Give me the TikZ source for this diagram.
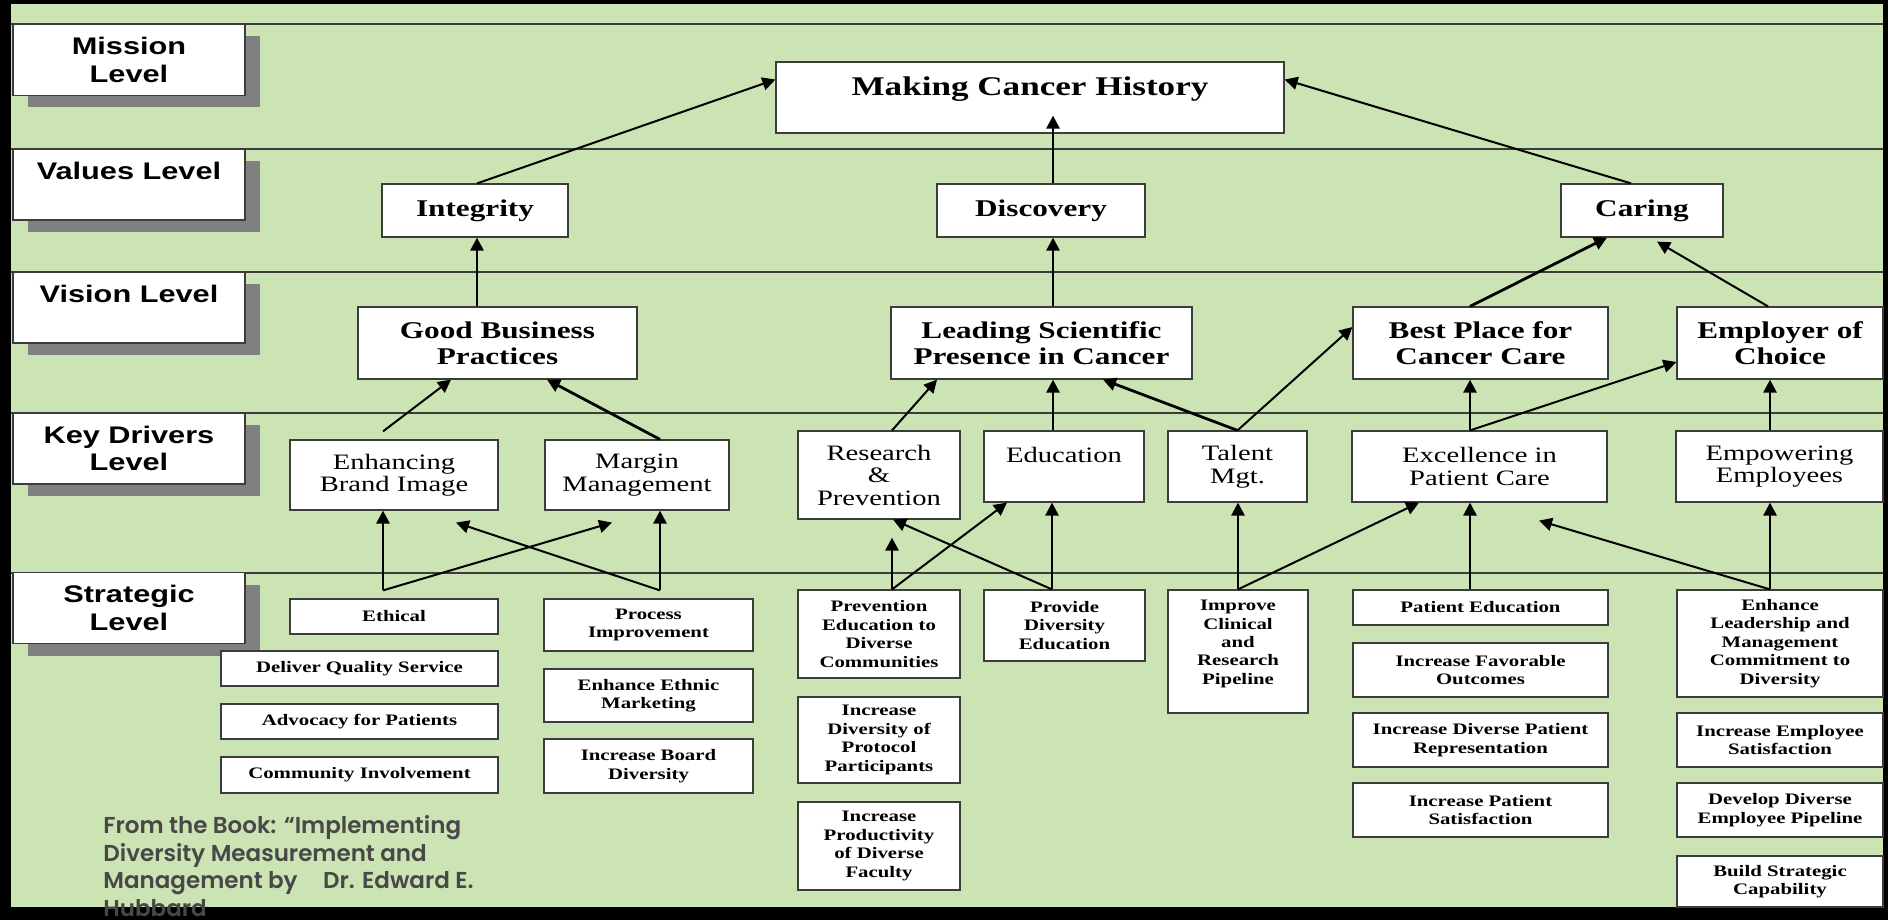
\documentclass[tikz,border=0pt]{standalone}
\usepackage{fontspec}
\usetikzlibrary{arrows.meta,shadows}
\newfontfamily\levelfont{Liberation Sans}[FakeStretch=1.28]
\newfontfamily\chartfont{Liberation Serif}[FakeStretch=1.3]
\newfontfamily\bookfont{Poppins}[UprightFont=* SemiBold]
\definecolor{chartgreen}{RGB}{204,228,180}
\definecolor{shadowgray}{RGB}{128,128,128}
\definecolor{rulegray}{RGB}{60,60,60}
\definecolor{booktext}{RGB}{72,72,72}
\begin{document}
\begin{tikzpicture}[x=0.5pt,y=-0.5pt,
    levelbox/.style={draw=rulegray,fill=white,line width=0.6pt,inner sep=0pt,align=center,
      minimum width=116pt,minimum height=35.5pt,
      font=\levelfont\bfseries\fontsize{12}{13.7}\selectfont,
      drop shadow={shadow xshift=7.5pt,shadow yshift=-6pt,fill=shadowgray,opacity=1}},
    valuebox/.style={draw=rulegray,fill=white,line width=0.6pt,inner sep=0pt,align=center,
      font=\chartfont\bfseries\fontsize{12}{12.8}\selectfont},
    driverbox/.style={draw=rulegray,fill=white,line width=0.6pt,inner sep=0pt,align=center,
      font=\chartfont\fontsize{11}{11.25}\selectfont},
    stratbox/.style={draw=rulegray,fill=white,line width=0.6pt,inner sep=0pt,align=center,
      font=\chartfont\bfseries\fontsize{8}{9.2}\selectfont},
    arrow/.style={line width=1.4pt,-{Triangle[length=6.5pt,width=6.5pt]}},
    thinarrow/.style={line width=1pt,-{Triangle[length=6.5pt,width=6.5pt]}}]
                \useasboundingbox (0,0) rectangle (1888,920);

                % Drawing frame and background
                \fill [black] (0,0) rectangle (1888,920);
                \fill [chartgreen] (11,4) rectangle (1883,907);

                % Drawing level rules
                \draw [rulegray, line width=0.75pt] (11,24) -- (1883,24);
                \draw [rulegray, line width=0.75pt] (11,149) -- (1883,149);
                \draw [rulegray, line width=0.75pt] (11,272) -- (1883,272);
                \draw [rulegray, line width=0.75pt] (11,413) -- (1883,413);
                \draw [rulegray, line width=0.75pt] (11,573) -- (1883,573);

                % Level boxes
                \node [levelbox] (mission) at (129,60) {Mission\\Level};
                \node [levelbox] (values) at (129,184.5) {Values Level\\~};
                \node [levelbox] (vision) at (129,307.5) {Vision Level\\~};
                \node [levelbox] (drivers) at (129,448.5) {Key Drivers\\Level};
                \node [levelbox] (strategic) at (129,608) {Strategic\\Level};

                % Mission level
                \node [valuebox, font=\chartfont\bfseries\fontsize{13.5}{11.5}\selectfont,
                  minimum width=254pt, minimum height=35.5pt] (mch) at (1030,97.5) {Making Cancer History\\~};

                % Values level
                \node [valuebox, minimum width=93pt, minimum height=26.5pt] (integ) at (475,210.5) {Integrity};
                \node [valuebox, minimum width=104pt, minimum height=26.5pt] (disc) at (1041,210.5) {Discovery};
                \node [valuebox, minimum width=81pt, minimum height=26.5pt] (caring) at (1642,210.5) {Caring};

                % Vision level
                \node [valuebox, minimum width=139.5pt, minimum height=36pt] (gbp) at (497.5,343) {Good Business\\Practices};
                \node [valuebox, minimum width=150.5pt, minimum height=36pt] (lspc) at (1041.5,343) {Leading Scientific\\Presence in Cancer};
                \node [valuebox, minimum width=127.5pt, minimum height=36pt] (bestpl) at (1480.5,343) {Best Place for\\Cancer Care};
                \node [valuebox, minimum width=103pt, minimum height=36pt] (employer) at (1780,343) {Employer of\\Choice};

                % Key drivers level
                \node [driverbox, minimum width=104pt, minimum height=35pt] (ebi) at (394,475) {Enhancing\\Brand Image};
                \node [driverbox, minimum width=92pt, minimum height=35pt] (mm) at (637,475) {Margin\\Management};
                \node [driverbox, minimum width=81pt, minimum height=44pt] (rp) at (879,475) {Research\\\&\\Prevention};
                \node [driverbox, minimum width=80pt, minimum height=35.5pt] (edu) at (1064,466.5) {Education\\~};
                \node [driverbox, minimum width=69.5pt, minimum height=35.5pt] (talent) at (1237.5,466.5) {Talent\\Mgt.};
                \node [driverbox, minimum width=127.5pt, minimum height=35.5pt] (excel) at (1479.5,466.5) {Excellence in\\Patient Care};
                \node [driverbox, minimum width=103.5pt, minimum height=35.5pt] (empow) at (1779.5,466.5) {Empowering\\Employees};

                % Strategic level
                \node [stratbox, minimum width=104pt, minimum height=17.5pt] (ethical) at (394,616.5) {Ethical};
                \node [stratbox, minimum width=138.5pt, minimum height=17.5pt] (dqs) at (359.5,668.5) {Deliver Quality Service};
                \node [stratbox, minimum width=138.5pt, minimum height=17.5pt] (advocacy) at (359.5,721.5) {Advocacy for Patients};
                \node [stratbox, minimum width=138.5pt, minimum height=18pt] (community) at (359.5,775) {Community Involvement};
                \node [stratbox, minimum width=104.5pt, minimum height=26pt] (procimp) at (648.5,625) {Process\\Improvement};
                \node [stratbox, minimum width=104.5pt, minimum height=26.5pt] (ethnic) at (648.5,695.5) {Enhance Ethnic\\Marketing};
                \node [stratbox, minimum width=104.5pt, minimum height=27pt] (board) at (648.5,766) {Increase Board\\Diversity};
                \node [stratbox, minimum width=81pt, minimum height=44pt] (prevedu) at (879,634) {Prevention\\Education to\\Diverse\\Communities};
                \node [stratbox, minimum width=81pt, minimum height=43pt] (protocol) at (879,740) {Increase\\Diversity of\\Protocol\\Participants};
                \node [stratbox, minimum width=81pt, minimum height=44pt] (faculty) at (879,846) {Increase\\Productivity\\of Diverse\\Faculty};
                \node [stratbox, minimum width=80.5pt, minimum height=35.5pt] (divedu) at (1064.5,625.5) {Provide\\Diversity\\Education};
                \node [stratbox, minimum width=70pt, minimum height=61.5pt] (pipeline) at (1238,651.5) {Improve\\Clinical\\and\\Research\\Pipeline\\~};
                \node [stratbox, minimum width=127.5pt, minimum height=17.5pt] (pated) at (1480.5,607.5) {Patient Education};
                \node [stratbox, minimum width=127.5pt, minimum height=27pt] (favor) at (1480.5,670) {Increase Favorable\\Outcomes};
                \node [stratbox, minimum width=127.5pt, minimum height=27pt] (represent) at (1480.5,740) {Increase Diverse Patient\\Representation};
                \node [stratbox, minimum width=127.5pt, minimum height=27pt] (patsat) at (1480.5,810) {Increase Patient\\Satisfaction};
                \node [stratbox, minimum width=103pt, minimum height=53.5pt] (leader) at (1780,643.5) {Enhance\\Leadership and\\Management\\Commitment to\\Diversity};
                \node [stratbox, minimum width=103pt, minimum height=27pt] (empsat) at (1780,740) {Increase Employee\\Satisfaction};
                \node [stratbox, minimum width=103pt, minimum height=27pt] (emppipe) at (1780,810) {Develop Diverse\\Employee Pipeline};
                \node [stratbox, minimum width=103pt, minimum height=25.5pt] (buildcap) at (1780,881.5) {Build Strategic\\Capability};

                % Drawing arrows to mission level
                \draw [thinarrow] ([xshift=1pt]integ.north) -- ([yshift=9pt]mch.west);
                \draw [arrow] ([xshift=6pt]disc.north) -- ([xshift=11.5pt,yshift=9pt]mch.south);
                \draw [thinarrow] ([xshift=-5.5pt]caring.north) -- ([yshift=9pt]mch.east);

                % Drawing arrows to values level
                \draw [arrow] ([xshift=-10.25pt]gbp.north) -- ([xshift=1pt]integ.south);
                \draw [arrow] ([xshift=5.75pt]lspc.north) -- ([xshift=6pt]disc.south);
                \draw [arrow] ([xshift=-5.25pt]bestpl.north) -- ([xshift=-17.5pt]caring.south);
                \draw [thinarrow] ([xshift=-6pt]employer.north) -- ([xshift=7.5pt,yshift=-2pt]caring.south);

                % Drawing arrows to vision level
                \draw [thinarrow] ([xshift=-5.5pt,yshift=4pt]ebi.north) -- ([xshift=-23.25pt]gbp.south);
                \draw [arrow] ([xshift=11.5pt]mm.north) -- ([xshift=24.75pt]gbp.south);
                \draw [thinarrow] ([xshift=6.5pt]rp.north) -- ([xshift=-52.25pt]lspc.south);
                \draw [arrow] ([xshift=-5.5pt]edu.north) -- ([xshift=5.75pt]lspc.south);
                \draw [arrow] (talent.north) -- ([xshift=30.75pt]lspc.south);
                \draw [thinarrow] (talent.north) -- ([yshift=8pt]bestpl.west);
                \draw [arrow] ([xshift=-4.75pt]excel.north) -- ([xshift=-5.25pt]bestpl.south);
                \draw [thinarrow] ([xshift=-4.75pt]excel.north) -- ([yshift=-9.5pt]employer.west);
                \draw [arrow] ([xshift=-4.75pt]empow.north) -- ([xshift=-5pt]employer.south);

                % Drawing arrows to key drivers level
                \coordinate (ethj) at ([xshift=-5.5pt,yshift=4pt]ethical.north);
                \coordinate (procj) at ([xshift=5.75pt,yshift=4pt]procimp.north);
                \draw [arrow] (ethj) -- (ethj |- ebi.south);
                \draw [thinarrow] (ethj) -- ([xshift=-12.5pt,yshift=-6pt]mm.south);
                \draw [arrow] (procj) -- (procj |- mm.south);
                \draw [thinarrow] (procj) -- ([xshift=31pt,yshift=-6pt]ebi.south);

                \coordinate (prevj) at ([xshift=6.5pt]prevedu.north);
                \coordinate (divj) at ([xshift=-6.25pt]divedu.north);
                \draw [arrow] (prevj) -- ([xshift=6.5pt,yshift=-9pt]rp.south);
                \draw [thinarrow] (prevj) -- ([xshift=-28.5pt]edu.south);
                \draw [arrow] (divj) -- (divj |- edu.south);
                \draw [thinarrow] (divj) -- ([xshift=7pt]rp.south);

                \coordinate (pipej) at (pipeline.north);
                \draw [arrow] (pipej) -- (pipej |- talent.south);
                \draw [thinarrow] (pipej) -- ([xshift=-30.25pt]excel.south);
                \draw [arrow] ([xshift=-5.25pt]pated.north) -- ([xshift=-4.75pt]excel.south);

                \coordinate (leadj) at ([xshift=-5pt]leader.north);
                \draw [arrow] (leadj) -- (leadj |- empow.south);
                \draw [thinarrow] (leadj) -- ([xshift=29.75pt,yshift=-9pt]excel.south);

                % Source note
                \node [anchor=north west, inner sep=0pt, align=left, text=booktext,
                  font=\bookfont\fontsize{11.5}{13.8}\selectfont] (source) at (103,815)
                  {From the Book: “Implementing\\Diversity Measurement and\\Management by\hspace{10pt} Dr. Edward E.\\Hubbard};
\end{tikzpicture}
\end{document}
